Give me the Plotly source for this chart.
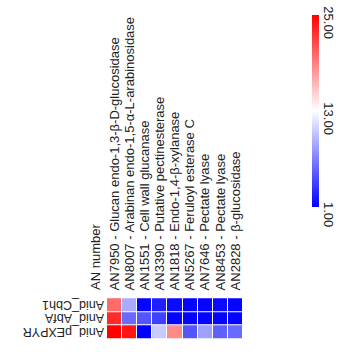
import plotly.graph_objects as go

# Genes (columns) and constructs (rows)
an_numbers = ["AN7950", "AN8007", "AN1551", "AN3390", "AN1818",
              "AN5267", "AN7646", "AN8453", "AN2828"]
enzymes = ["Glucan endo-1,3-β-D-glucosidase",
           "Arabinan endo-1,5-α-L-arabinosidase",
           "Cell wall glucanase",
           "Putative pectinesterase",
           "Endo-1,4-β-xylanase",
           "Feruloyl esterase C",
           "Pectate lyase",
           "Pectate lyase",
           "β-glucosidase"]
strains = ["Anid_pEXPYR", "Anid_AbfA", "Anid_Cbh1"]

# Expression values, one list per strain
vals_pexpyr = [25.0, 24.0, 1.0, 10.5, 18.5, 5.0, 8.5, 5.5, 6.0]
vals_abfa = [23.0, 6.0, 5.0, 4.0, 1.2, 1.2, 1.2, 1.2, 1.2]
vals_cbh1 = [20.0, 9.0, 1.2, 2.5, 1.5, 1.3, 1.2, 1.5, 1.2]

cbar_ticks = [1, 13, 25]

col_labels = [f"{a} - {e}" for a, e in zip(an_numbers, enzymes)]
z = [vals_pexpyr, vals_abfa, vals_cbh1]

font = "Liberation Sans"
txt = "#222"
W, H = 350, 360

fig = go.Figure(go.Heatmap(
    z=z, x=col_labels, y=strains,
    zmin=1, zmax=25,
    colorscale=[[0, "rgb(0,0,255)"], [0.5, "rgb(255,255,255)"], [1, "rgb(255,0,0)"]],
    xgap=1, ygap=1,
    colorbar=dict(
        thickness=7, lenmode="pixels", len=192,
        x=312 / W, xanchor="left", xpad=0,
        y=(H - 111) / H, yanchor="middle", ypad=0,
        outlinewidth=0,
        tickvals=cbar_ticks, tickformat=".2f", tickangle=90,
        ticklabelposition="outside bottom",
        ticks="outside", ticklen=5, tickcolor="rgba(0,0,0,0)",
        tickfont=dict(family=font, size=13, color=txt),
    ),
))

fig.update_layout(
    width=W, height=H, autosize=False,
    margin=dict(l=0, r=0, t=0, b=0),
    plot_bgcolor="white", paper_bgcolor="white",
    font=dict(family=font, size=13, color=txt),
    xaxis=dict(domain=[107 / W, 243 / W], side="top", tickangle=-90,
               tickmode="linear", tick0=0, dtick=1,
               showgrid=False, zeroline=False, showline=False,
               ticks="outside", ticklen=3, tickcolor="rgba(0,0,0,0)",
               automargin=False, tickfont=dict(size=13)),
    yaxis=dict(domain=[20 / H, 63 / H], showgrid=False, zeroline=False,
               showline=False, showticklabels=False, automargin=False),
)

# Row labels, turned upside down
for s in strains:
    fig.add_annotation(
        text=s, xref="paper", x=105 / W, xanchor="right",
        yref="y", y=s, yanchor="middle", textangle=180, borderpad=0,
        showarrow=False, font=dict(family=font, size=12.5, color=txt),
    )

fig.add_annotation(
    text="AN number", xref="paper", yref="paper",
    x=95 / W, y=(H - 292) / H, xanchor="center", yanchor="bottom",
    textangle=-90, showarrow=False, font=dict(family=font, size=13, color=txt),
)

fig.write_html("out.html")
